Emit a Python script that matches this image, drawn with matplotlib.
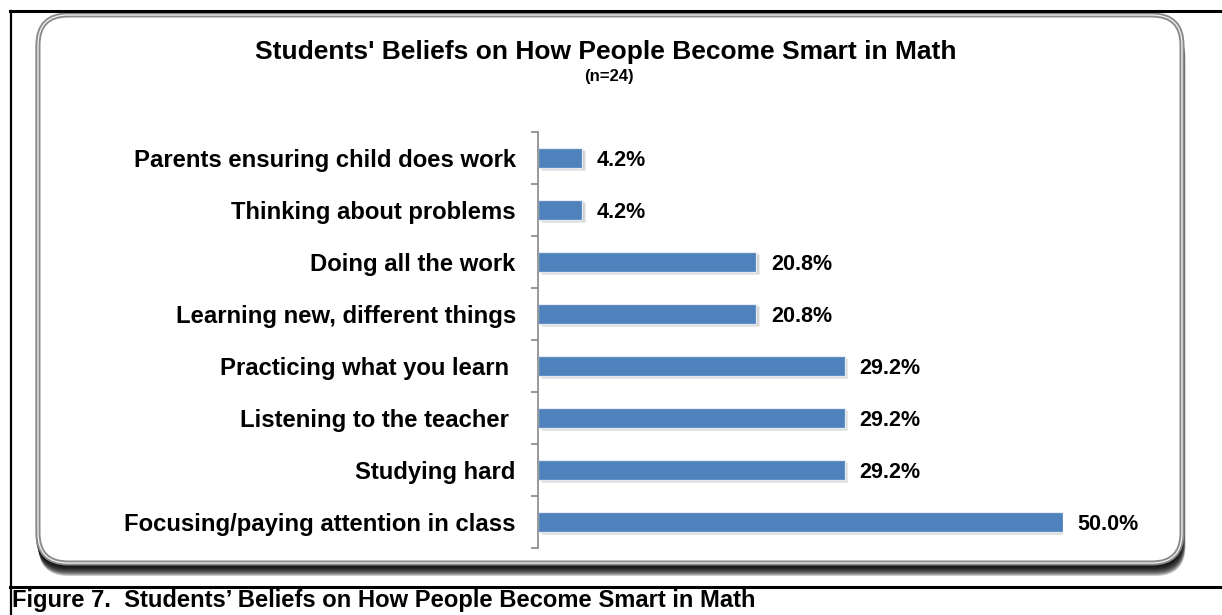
import matplotlib
matplotlib.use("Agg")
import matplotlib.pyplot as plt
from matplotlib.patches import FancyBboxPatch
from matplotlib.lines import Line2D
import numpy as np

categories = [
    "Focusing/paying attention in class",
    "Studying hard",
    "Listening to the teacher ",
    "Practicing what you learn ",
    "Learning new, different things",
    "Doing all the work",
    "Thinking about problems",
    "Parents ensuring child does work",
]
values = [50.0, 29.2, 29.2, 29.2, 20.8, 20.8, 4.2, 4.2]
value_labels = ["50.0%", "29.2%", "29.2%", "29.2%", "20.8%", "20.8%", "4.2%", "4.2%"]
title = "Students' Beliefs on How People Become Smart in Math"
subtitle = "(n=24)"
caption = "Figure 7.  Students\u2019 Beliefs on How People Become Smart in Math"

W, H = 1222, 615
plt.rcParams['font.family'] = ['Liberation Sans', 'DejaVu Sans']
fig = plt.figure(figsize=(W / 100, H / 100), dpi=100)
fig.patch.set_facecolor("white")

def fx(px):
    return px / W

def fy(py):
    return 1 - py / H

# outer document frame lines
fig.add_artist(Line2D([fx(10), fx(1222)], [fy(11), fy(11)], color="black", lw=2.2))
fig.add_artist(Line2D([fx(10.5), fx(10.5)], [fy(11), fy(615)], color="black", lw=1.6))
fig.add_artist(Line2D([fx(10), fx(1222)], [fy(587), fy(587)], color="black", lw=2.2))

# rounded chart box with shadow
bx0, by0, bx1, by1 = 38, 15, 1182, 563
rad = 30 / W

def rbox(x0, y0, x1, y1, **kw):
    return FancyBboxPatch((fx(x0), fy(y1)), fx(x1 - x0), (y1 - y0) / H,
                          boxstyle="round,pad=0,rounding_size=%f" % rad,
                          transform=fig.transFigure, mutation_aspect=W / H, **kw)

for i in range(13):
    dy = 1 + i * 1.0
    dx = 0.5 + i * 0.25
    fig.add_artist(rbox(bx0 + dx - 3, by0 + dy, bx1 + dx, by1 + dy,
                        facecolor="black", edgecolor="none", alpha=0.2))
fig.add_artist(rbox(bx0, by0, bx1, by1, facecolor="white", edgecolor="#8a8a8a", linewidth=3.6))
fig.add_artist(rbox(bx0, by0, bx1, by1, facecolor="none", edgecolor="#f4f4f4", linewidth=0.9))

# titles
fig.text(fx(606), fy(52), title, ha="center", va="center", fontsize=19, fontweight="bold", zorder=6)
fig.text(fx(609), fy(76), subtitle, ha="center", va="center", fontsize=12, fontweight="bold", zorder=6)
fig.text(fx(12), fy(601), caption, ha="left", va="center", fontsize=17.1, fontweight="bold", zorder=6)

# axes
ax_l, ax_r, ax_t, ax_b = 538, 1063, 132, 548
ax = fig.add_axes([fx(ax_l), fy(ax_b), fx(ax_r - ax_l), (ax_b - ax_t) / H])
ax.set_zorder(5)
ax.set_facecolor("none")
y = np.arange(len(categories))
bh = 0.38
# bar shadows
for k in range(3):
    ax.barh(y - 0.03 - 0.015 * k, values, height=bh, left=0.15 + 0.1 * k,
            color="#909090", alpha=0.18, zorder=1, linewidth=0)
ax.barh(y, values, height=bh, color="#4F81BD", edgecolor="#e6ecf4", linewidth=0.9, zorder=2)
for yi, v, lab in zip(y, values, value_labels):
    ax.text(v + 1.4, yi - 0.04, lab, ha="left", va="center", fontsize=15.5,
            fontweight="bold", clip_on=False)

ax.set_xlim(0, 50)
ax.set_ylim(-0.5, len(categories) - 0.5)
ax.set_yticks(y)
ax.set_yticklabels(categories, fontsize=17.2, fontweight="bold")
ax.set_yticks(np.arange(-0.5, len(categories), 1), minor=True)
ax.tick_params(axis="y", which="major", length=0, pad=16)
ax.tick_params(axis="y", which="minor", length=5, color="#888888", width=1.2, direction="out")
ax.set_xticks([])
for s in ["top", "right", "bottom"]:
    ax.spines[s].set_visible(False)
ax.spines["left"].set_color("#888888")
ax.spines["left"].set_linewidth(1.2)

fig.savefig("out.png", dpi=100, facecolor="white")
